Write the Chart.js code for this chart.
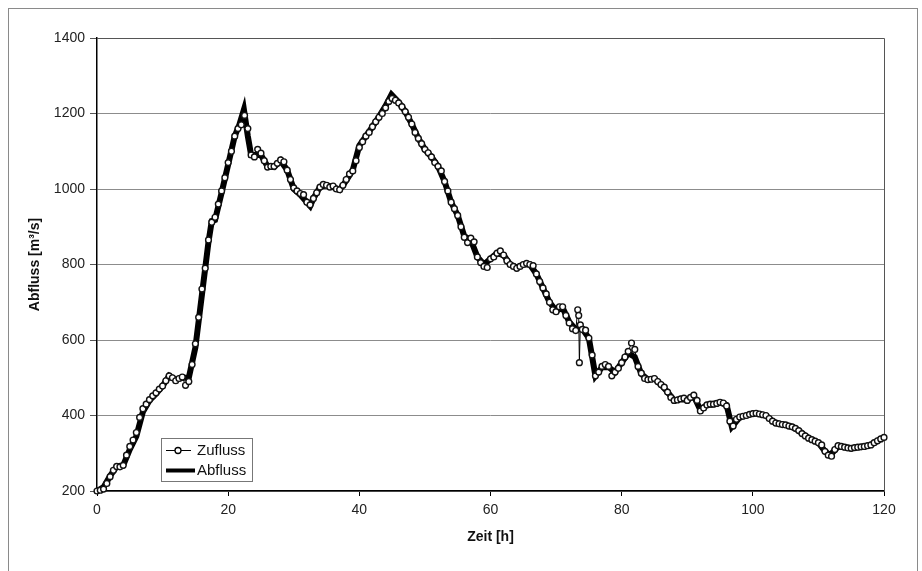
<!DOCTYPE html>
<html>
<head>
<meta charset="utf-8">
<script src="https://cdn.jsdelivr.net/npm/chart.js@4.4.1/dist/chart.umd.min.js"></script>
<style>
  html, body { margin: 0; padding: 0; background: #fff; overflow: hidden; }
  #wrap { position: relative; width: 922px; height: 571px; }
  #rahmen { position: absolute; left: 8px; top: 8px; width: 908px; height: 600px; border: 1px solid #8a8a8a; pointer-events: none; }
  canvas { position: absolute; left: 0; top: 0; }
</style>
</head>
<body>
<div id="wrap">
  <canvas id="chart" width="922" height="571"></canvas>
  <div id="rahmen"></div>
</div>
<script>
// Zufluss (gemessen, mit Punkten)
const zuflussZeit = [
  0, 0.5, 1, 1.5, 2, 2.5, 3, 3.5, 4, 4.5,
  5, 5.5, 6, 6.5, 7, 7.5, 8, 8.5, 9, 9.5,
  10, 10.5, 11, 11.5, 12, 12.5, 13, 13.5, 14, 14.5,
  15, 15.5, 16, 16.5, 17, 17.5, 18, 18.5, 19, 19.5,
  20, 20.5, 21, 21.5, 22, 22.5, 23, 23.5, 24, 24.5,
  25, 25.5, 26, 26.5, 27, 27.5, 28, 28.5, 29, 29.5,
  30, 30.5, 31, 31.5, 32, 32.5, 33, 33.5, 34, 34.5,
  35, 35.5, 36, 36.5, 37, 37.5, 38, 38.5, 39, 39.5,
  40, 40.5, 41, 41.5, 42, 42.5, 43, 43.5, 44, 44.5,
  45, 45.5, 46, 46.5, 47, 47.5, 48, 48.5, 49, 49.5,
  50, 50.5, 51, 51.5, 52, 52.5, 53, 53.5, 54, 54.5,
  55, 55.5, 56, 56.5, 57, 57.5, 58, 58.5, 59, 59.5,
  60, 60.5, 61, 61.5, 62, 62.5, 63, 63.5, 64, 64.5,
  65, 65.5, 66, 66.5, 67, 67.5, 68, 68.5, 69, 69.5,
  70, 70.5, 71, 71.5, 72, 72.5, 73,
  73.3, 73.45, 73.55, 73.7,
  74, 74.5, 75, 75.5, 76, 76.5, 77, 77.5, 78, 78.5, 79, 79.5,
  80, 80.5, 81, 81.5, 82, 82.5, 83, 83.5, 84, 84.5,
  85, 85.5, 86, 86.5, 87, 87.5, 88, 88.5, 89, 89.5,
  90, 90.5, 91, 91.5, 92, 92.5, 93, 93.5, 94, 94.5,
  95, 95.5, 96, 96.5, 97, 97.5, 98, 98.5, 99, 99.5,
  100, 100.5, 101, 101.5, 102, 102.5, 103, 103.5, 104, 104.5,
  105, 105.5, 106, 106.5, 107, 107.5, 108, 108.5, 109, 109.5,
  110, 110.5, 111, 111.5, 112, 112.5, 113, 113.5, 114, 114.5,
  115, 115.5, 116, 116.5, 117, 117.5, 118, 118.5, 119, 119.5,
  120
];
const zuflussQ = [
  200, 202, 205, 220, 238, 255, 265, 264, 268, 295,
  318, 335, 355, 395, 418, 430, 442, 452, 460, 470,
  478, 492, 505, 500, 492, 498, 502, 480, 490, 535,
  590, 660, 735, 790, 865, 912, 925, 960, 995, 1030,
  1070, 1100, 1140, 1160, 1170, 1195, 1160, 1090, 1085, 1105,
  1095, 1075, 1058, 1060, 1060, 1068, 1077, 1072, 1050, 1025,
  1003, 995, 988, 985, 965, 958, 975, 990, 1005, 1012,
  1010, 1005, 1008, 1000, 998, 1010, 1025, 1040, 1048, 1075,
  1110, 1125, 1140, 1150, 1165, 1178, 1190, 1200, 1215, 1232,
  1240, 1235, 1228, 1218, 1205, 1190, 1172, 1150, 1134, 1120,
  1105, 1096, 1085, 1070, 1060, 1048, 1020, 995, 965, 948,
  930, 900, 872, 858, 870, 860, 820, 805, 795, 792,
  815, 820, 830, 836, 825, 810, 800, 795, 790, 795,
  800, 803, 800, 797, 775, 755, 738, 722, 700, 680,
  675, 688, 688, 665, 645, 630, 625,
  680, 665, 540, 640,
  628, 626, 605, 560, 505, 515, 530, 535, 530, 505, 515, 525,
  540, 555, 570, 592, 575, 530, 512, 498, 495, 496,
  498, 490, 482, 475, 462, 448, 440, 441, 444, 446,
  440, 448, 454, 440, 412, 420, 428, 430, 430, 432,
  435, 433, 425, 385, 372, 390, 396, 398, 400, 403,
  405, 406, 404, 402, 400, 392, 385, 380, 378, 376,
  375, 372, 370, 366, 360, 352, 346, 340, 336, 332,
  328, 322, 305, 295, 292, 310, 320, 318, 316, 314,
  313, 315, 316, 317, 318, 320, 322, 328, 333, 338,
  342
];

// Abfluss (dicke Linie)
const abflussZeit = [
  0, 1, 2, 3, 4, 5, 6, 7, 8, 9, 10, 11, 12, 13, 14, 15, 16, 17, 17.5,
  18, 19, 20, 21, 21.7, 22.4, 23, 23.5, 24, 25, 26, 27, 28, 29,
  30, 31, 32, 32.5, 33, 34, 35, 36, 37, 38, 39,
  40, 41, 42, 43, 44, 44.9, 46, 47, 48, 49,
  50, 51, 52, 53, 54, 55, 56, 57, 58, 59,
  60, 61, 62, 63, 64, 65, 66, 67, 68, 69,
  70, 71, 72, 73, 74, 75, 76, 77, 78, 79,
  80, 81, 82, 83, 84, 85, 86, 87, 88, 89,
  90, 91, 92, 93, 94, 95, 96, 96.8, 98, 99,
  100, 101, 102, 103, 104, 105, 106, 107, 108, 109,
  110, 111, 111.8, 113, 114, 115, 116, 117, 118, 119, 120
];
const abflussQ = [
  200, 210, 240, 265, 268, 310, 345, 410, 440, 458, 478, 505, 495, 500, 500, 580, 720, 860, 915,
  918, 990, 1065, 1140, 1170, 1210, 1140, 1090, 1090, 1090, 1060, 1058, 1075, 1050,
  1000, 985, 965, 955, 975, 1005, 1010, 1005, 998, 1022, 1050,
  1115, 1140, 1165, 1192, 1220, 1250, 1230, 1205, 1172, 1134,
  1105, 1085, 1060, 1020, 965, 930, 875, 865, 820, 800,
  815, 830, 825, 800, 792, 800, 800, 775, 738, 700,
  678, 685, 648, 628, 630, 605, 505, 528, 528, 515,
  540, 565, 555, 510, 495, 498, 482, 462, 440, 444,
  440, 452, 415, 428, 430, 435, 428, 370, 395, 400,
  405, 404, 400, 385, 378, 375, 370, 360, 346, 336,
  328, 305, 295, 318, 316, 313, 316, 318, 322, 333, 342
];

const xTicks = [0, 20, 40, 60, 80, 100, 120];
const yTicks = [200, 400, 600, 800, 1000, 1200, 1400];

const schrift = 'Arial, "Liberation Sans", sans-serif';

function paare(zeit, werte) {
  return zeit.map((t, i) => ({ x: t, y: werte[i] }));
}

// Legende innerhalb der Zeichenfläche, unten links
const legendePlugin = {
  id: 'legende',
  afterDraw(chart) {
    const { ctx, chartArea } = chart;
    const x = Math.round(chartArea.left + 64), y = Math.round(chartArea.bottom - 53);
    ctx.save();
    ctx.fillStyle = '#fff';
    ctx.fillRect(x, y, 91, 43);
    ctx.strokeStyle = '#777';
    ctx.lineWidth = 1;
    ctx.strokeRect(x + 0.5, y + 0.5, 91, 43);

    ctx.strokeStyle = '#000';
    ctx.lineWidth = 1;
    ctx.beginPath(); ctx.moveTo(x + 5, y + 12.5); ctx.lineTo(x + 30, y + 12.5); ctx.stroke();
    ctx.beginPath(); ctx.arc(x + 17, y + 12.5, 3, 0, 2 * Math.PI);
    ctx.fillStyle = '#fff'; ctx.fill(); ctx.lineWidth = 1.3; ctx.stroke();

    ctx.lineWidth = 4;
    ctx.beginPath(); ctx.moveTo(x + 5, y + 32.5); ctx.lineTo(x + 34, y + 32.5); ctx.stroke();

    ctx.fillStyle = '#111';
    ctx.font = '15px ' + schrift;
    ctx.textBaseline = 'middle';
    ctx.fillText('Zufluss', x + 36, y + 12.5);
    ctx.fillText('Abfluss', x + 36, y + 32.5);
    ctx.restore();
  }
};

// obere und rechte Begrenzung der Zeichenfläche
const rahmenPlugin = {
  id: 'plotrahmen',
  beforeDatasetsDraw(chart) {
    const { ctx, chartArea: a } = chart;
    const r = Math.round(a.right) + 0.5, t = Math.round(a.top) + 0.5;
    ctx.save();
    ctx.strokeStyle = '#555';
    ctx.lineWidth = 1;
    ctx.beginPath();
    ctx.moveTo(a.left, t);
    ctx.lineTo(r, t);
    ctx.lineTo(r, a.bottom);
    ctx.stroke();
    ctx.restore();
  }
};

new Chart(document.getElementById('chart'), {
  type: 'line',
  data: {
    datasets: [
      {
        label: 'Zufluss',
        data: paare(zuflussZeit, zuflussQ),
        borderColor: '#000',
        borderWidth: 1,
        pointRadius: 2.9,
        pointBackgroundColor: '#fff',
        pointBorderColor: '#111',
        pointBorderWidth: 1.4,
        tension: 0,
        clip: false,
        order: 1
      },
      {
        label: 'Abfluss',
        data: paare(abflussZeit, abflussQ),
        borderColor: '#000',
        borderWidth: 6,
        pointRadius: 0,
        tension: 0,
        clip: false,
        order: 2
      }
    ]
  },
  options: {
    responsive: false,
    animation: false,
    layout: { padding: { left: 20, top: 38, right: 38, bottom: 0 } },
    plugins: {
      legend: { display: false },
      tooltip: { enabled: false }
    },
    scales: {
      x: {
        type: 'linear',
        min: 0,
        max: 120,
        afterBuildTicks: s => { s.ticks = xTicks.map(v => ({ value: v })); },
        afterFit: s => { s.height = 80; },
        ticks: { color: '#222', font: { family: schrift, size: 14 }, padding: 6, maxRotation: 0, callback: v => String(v) },
        grid: { drawOnChartArea: false, tickLength: 5, color: '#000' },
        border: { color: '#000', width: 1.5 },
        title: {
          display: true,
          text: 'Zeit [h]',
          color: '#111',
          font: { family: schrift, size: 14, weight: 'bold' },
          padding: { top: 0, bottom: 25 }
        }
      },
      y: {
        min: 200,
        max: 1400,
        afterBuildTicks: s => { s.ticks = yTicks.map(v => ({ value: v })); },
        afterFit: s => { s.width = 77; },
        ticks: { color: '#222', font: { family: schrift, size: 14 }, padding: 5, callback: v => String(v) },
        grid: { color: '#8c8c8c', tickLength: 7, tickColor: '#555' },
        border: { color: '#000', width: 1.5 },
        title: {
          display: true,
          text: 'Abfluss [m³/s]',
          color: '#111',
          font: { family: schrift, size: 14, weight: 'bold' },
          padding: { top: 7, bottom: 0 }
        }
      }
    }
  },
  plugins: [rahmenPlugin, legendePlugin]
});
</script>
</body>
</html>
